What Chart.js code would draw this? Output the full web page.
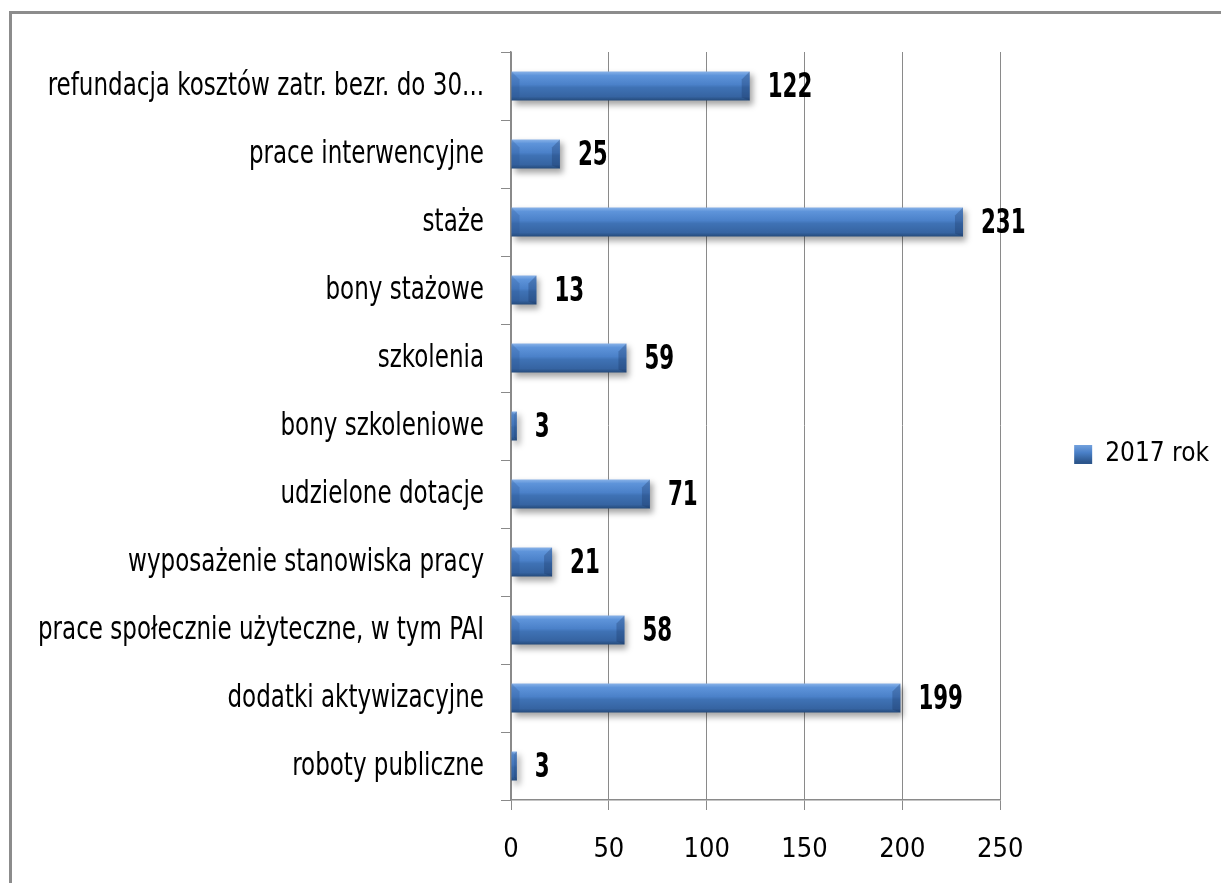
<!DOCTYPE html>
<html lang="pl">
  <head>
    <meta charset="UTF-8" />
    <title>Formy aktywizacji 2017</title>
    <style>
      body {
        margin: 0;
        width: 1221px;
        height: 883px;
        overflow: hidden;
        background: #ffffff;
        position: relative;
      }
      .frame {
        position: absolute;
        left: 9px;
        top: 11px;
        width: 1400px;
        height: 1000px;
        border: 3px solid #8c8c8c;
      }
      .chart-box {
        position: absolute;
        left: 0;
        top: 0;
        width: 1221px;
        height: 883px;
      }
    </style>
  </head>
  <body>
    <div class="frame"></div>
    <div class="chart-box">
      <canvas id="formyChart" width="1221" height="883"></canvas>
    </div>

    <script src="https://cdn.jsdelivr.net/npm/chart.js"></script>
    <script>
      // categories top to bottom
      const formy = [
        'refundacja kosztów zatr. bezr. do 30...',
        'prace interwencyjne',
        'staże',
        'bony stażowe',
        'szkolenia',
        'bony szkoleniowe',
        'udzielone dotacje',
        'wyposażenie stanowiska pracy',
        'prace społecznie użyteczne, w tym PAI',
        'dodatki aktywizacyjne',
        'roboty publiczne'
      ];
      const liczba2017 = [122, 25, 231, 13, 59, 3, 71, 21, 58, 199, 3];
      const osX = [0, 50, 100, 150, 200, 250];

      const FONT = "'DejaVu Sans Condensed', 'Liberation Sans', sans-serif";
      const BAR_PCT = 0.43;

      // bevel-like gradient across each bar's thickness
      function barFill(context) {
        const chart = context.chart;
        const area = chart.chartArea;
        if (!area || context.dataIndex === undefined) return '#4a7ebf';
        const yScale = chart.scales.y;
        const band = (area.bottom - area.top) / formy.length;
        const half = band * BAR_PCT / 2;
        const cy = yScale.getPixelForValue(context.dataIndex);
        const g = chart.ctx.createLinearGradient(0, cy - half, 0, cy + half);
        g.addColorStop(0, '#8ab3e8');
        g.addColorStop(0.14, '#5e94da');
        g.addColorStop(0.45, '#4b81c9');
        g.addColorStop(0.55, '#3f72b5');
        g.addColorStop(0.86, '#3664a2');
        g.addColorStop(1, '#244a7a');
        return g;
      }

      function legendFill(ctx) {
        const g = ctx.createLinearGradient(0, 443, 0, 462);
        g.addColorStop(0, '#7eaae3');
        g.addColorStop(0.5, '#4a80c8');
        g.addColorStop(1, '#2c568c');
        return g;
      }

      // squeezed text, the labels use a narrow face
      function narrowText(ctx, text, x, y, squeeze) {
        const w = ctx.measureText(text).width;
        ctx.fillText(text, x, y, w * squeeze);
      }

      // soft drop shadow under the bars
      const barShadow = {
        id: 'barShadow',
        beforeDatasetsDraw(chart) {
          const ctx = chart.ctx;
          ctx.save();
          ctx.shadowColor = 'rgba(0, 0, 0, 0.35)';
          ctx.shadowBlur = 6;
          ctx.shadowOffsetX = 3;
          ctx.shadowOffsetY = 4;
        },
        afterDatasetsDraw(chart) {
          chart.ctx.restore();
        }
      };

      // slanted end faces on every bar
      const barBevel = {
        id: 'barBevel',
        afterDatasetsDraw(chart) {
          const ctx = chart.ctx;
          const meta = chart.getDatasetMeta(0);
          ctx.save();
          meta.data.forEach(bar => {
            const top = bar.y - bar.height / 2;
            const bottom = bar.y + bar.height / 2;
            const x0 = bar.base;
            const x1 = bar.x;
            const b = Math.min(8, (x1 - x0) / 2);
            if (b < 2) return;
            // right face, darker
            ctx.fillStyle = 'rgba(20, 45, 90, 0.28)';
            ctx.beginPath();
            ctx.moveTo(x1, top);
            ctx.lineTo(x1, bottom);
            ctx.lineTo(x1 - b, bottom - 3);
            ctx.lineTo(x1 - b, top + b);
            ctx.closePath();
            ctx.fill();
            // left face, slightly lighter
            ctx.fillStyle = 'rgba(40, 80, 140, 0.25)';
            ctx.beginPath();
            ctx.moveTo(x0, top);
            ctx.lineTo(x0 + b, top + b);
            ctx.lineTo(x0 + b, bottom - 3);
            ctx.lineTo(x0, bottom);
            ctx.closePath();
            ctx.fill();
          });
          ctx.restore();
        }
      };

      // category names left of the axis
      const categoryLabels = {
        id: 'categoryLabels',
        afterDraw(chart) {
          const ctx = chart.ctx;
          const yScale = chart.scales.y;
          const right = chart.chartArea.left - 10 - 17;
          ctx.save();
          ctx.font = '32px ' + FONT;
          ctx.fillStyle = '#000000';
          ctx.textAlign = 'right';
          ctx.textBaseline = 'middle';
          formy.forEach((name, i) => {
            narrowText(ctx, name, right, yScale.getPixelForTick(i) + 1, 0.8);
          });
          ctx.restore();
        }
      };

      // value printed right of each bar
      const valueLabels = {
        id: 'valueLabels',
        afterDatasetsDraw(chart) {
          const ctx = chart.ctx;
          const meta = chart.getDatasetMeta(0);
          ctx.save();
          ctx.font = 'bold 33px ' + FONT;
          ctx.fillStyle = '#000000';
          ctx.textAlign = 'left';
          ctx.textBaseline = 'middle';
          meta.data.forEach((bar, i) => {
            narrowText(ctx, String(liczba2017[i]), bar.x + 18, bar.y + 2, 0.72);
          });
          ctx.restore();
        }
      };

      const ctx = document.getElementById('formyChart').getContext('2d');
      const formyChart = new Chart(ctx, {
        type: 'bar',
        data: {
          labels: formy,
          datasets: [
            {
              label: '2017 rok',
              data: liczba2017,
              backgroundColor: barFill,
              borderWidth: 0,
              barPercentage: BAR_PCT,
              categoryPercentage: 1.0
            }
          ]
        },
        options: {
          indexAxis: 'y',
          responsive: false,
          animation: false,
          layout: {
            padding: { top: 52, left: 0, right: 2, bottom: 26 }
          },
          scales: {
            x: {
              min: 0,
              max: 250,
              afterBuildTicks(scale) {
                scale.ticks = osX.map(v => ({ value: v }));
              },
              afterFit(scale) {
                scale.height = 883 - 26 - 800;
              },
              grid: {
                color: '#8a8a8a',
                lineWidth: 1,
                tickLength: 10,
                tickColor: '#8a8a8a'
              },
              border: { color: '#8a8a8a', width: 1.5 },
              ticks: {
                color: '#000000',
                padding: 24,
                font: { family: FONT, size: 27 }
              }
            },
            y: {
              afterFit(scale) {
                scale.width = 511;
              },
              grid: {
                drawOnChartArea: false,
                tickLength: 10,
                tickColor: '#8a8a8a',
                offset: true
              },
              border: { color: '#8a8a8a', width: 1.5 },
              ticks: { display: false }
            }
          },
          plugins: {
            legend: {
              position: 'right',
              labels: {
                padding: 74,
                boxWidth: 18,
                boxHeight: 19,
                color: '#000000',
                font: { family: FONT, size: 26 },
                generateLabels(chart) {
                  return [{
                    text: '2017 rok',
                    fillStyle: legendFill(chart.ctx),
                    strokeStyle: '#2c568c',
                    lineWidth: 0,
                    datasetIndex: 0
                  }];
                }
              }
            },
            tooltip: { enabled: false }
          }
        },
        plugins: [barShadow, barBevel, valueLabels, categoryLabels]
      });
    </script>
  </body>
</html>
